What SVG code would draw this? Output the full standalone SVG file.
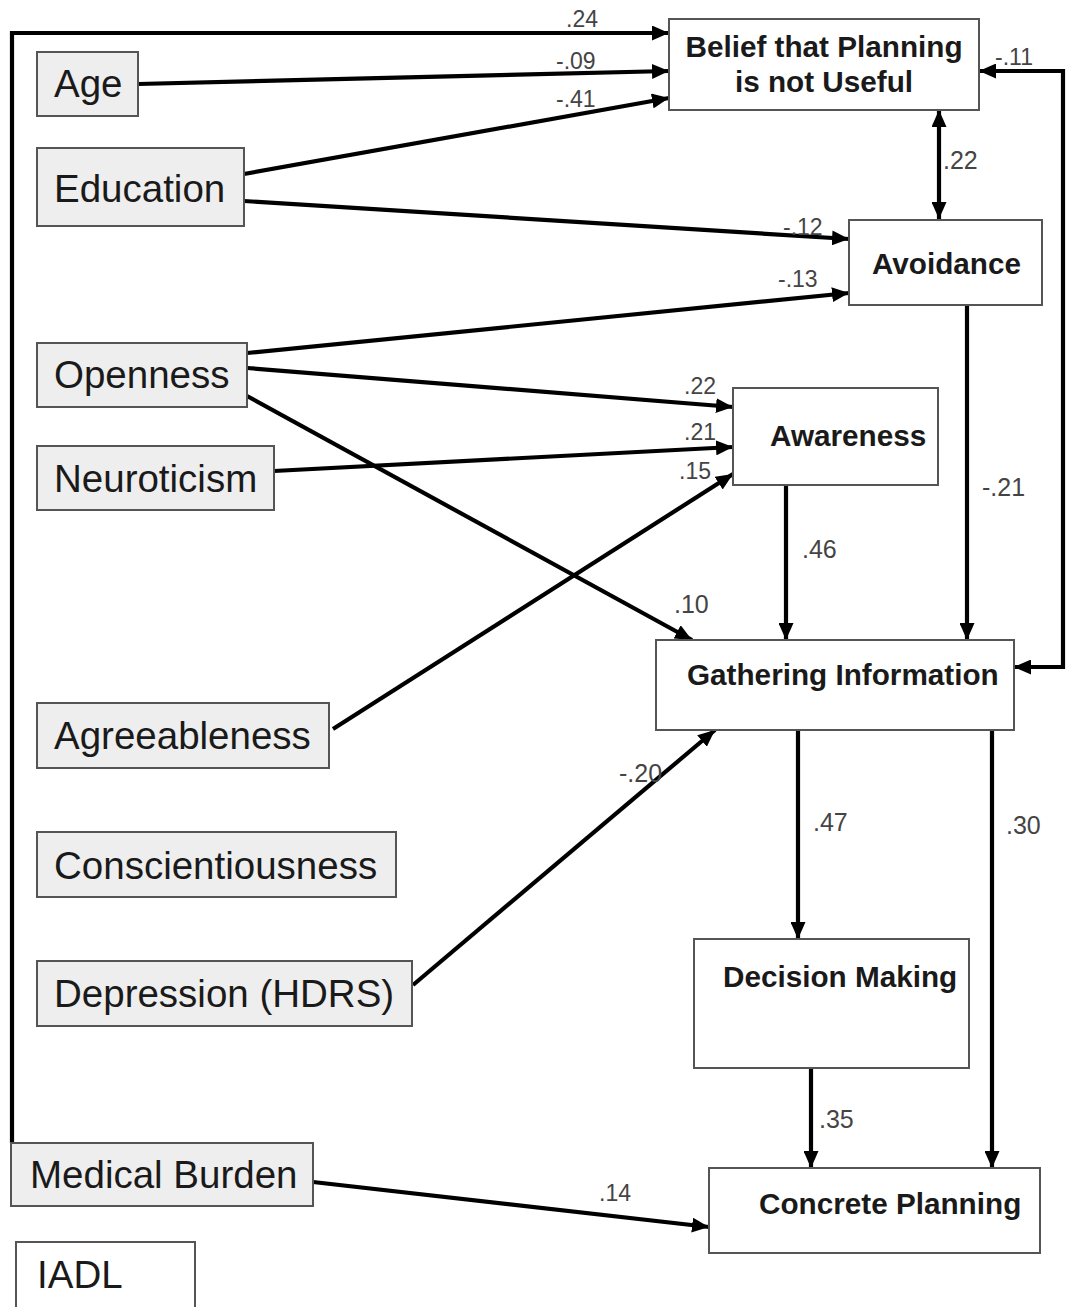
<svg xmlns="http://www.w3.org/2000/svg" width="1066" height="1307" viewBox="0 0 1066 1307">
<style>
.box{stroke:#555;stroke-width:2}
.g{fill:#eeeeee}
.w{fill:#ffffff}
.lt{font-family:"Liberation Sans",Arial,sans-serif;font-size:38.5px;fill:#1a1a1a}
.bt{font-family:"Liberation Sans",Arial,sans-serif;font-size:29.7px;font-weight:bold;fill:#1a1a1a}
.e{fill:none;stroke:#000;stroke-width:4.2}
.ls{font-family:"Liberation Sans",Arial,sans-serif;font-size:23px;fill:#444}
.ll{font-family:"Liberation Sans",Arial,sans-serif;font-size:25px;fill:#444}
</style>
<defs>
<marker id="ah" markerUnits="userSpaceOnUse" markerWidth="18" markerHeight="15" refX="17" refY="7.5" orient="auto-start-reverse">
<path d="M0,0 L17,7.5 L0,15 z" fill="#000"/>
</marker>
</defs>
<rect width="1066" height="1307" fill="#fff"/>

<g id="connectors">
<path class="e" d="M12,1143 L12,33 L669,33" marker-end="url(#ah)"/>
<path class="e" d="M138,84 L669,71" marker-end="url(#ah)"/>
<path class="e" d="M244,174 L669,98" marker-end="url(#ah)"/>
<path class="e" d="M244,201 L849,239" marker-end="url(#ah)"/>
<path class="e" d="M247,353 L849,293" marker-end="url(#ah)"/>
<path class="e" d="M247,368 L733,407" marker-end="url(#ah)"/>
<path class="e" d="M247,396 L692,640" marker-end="url(#ah)"/>
<path class="e" d="M274,471 L733,447" marker-end="url(#ah)"/>
<path class="e" d="M333,729 L733,474" marker-end="url(#ah)"/>
<path class="e" d="M413,985 L715,730" marker-end="url(#ah)"/>
<path class="e" d="M939,110 L939,219" marker-start="url(#ah)" marker-end="url(#ah)"/>
<path class="e" d="M979,71 L1063,71 L1063,667 L1014,667" marker-start="url(#ah)" marker-end="url(#ah)"/>
<path class="e" d="M967,305 L967,640" marker-end="url(#ah)"/>
<path class="e" d="M786,485 L786,640" marker-end="url(#ah)"/>
<path class="e" d="M798,730 L798,939" marker-end="url(#ah)"/>
<path class="e" d="M992,730 L992,1168" marker-end="url(#ah)"/>
<path class="e" d="M811,1068 L811,1168" marker-end="url(#ah)"/>
<path class="e" d="M313,1182 L709,1227" marker-end="url(#ah)"/>
<text class="ls" x="566" y="27">.24</text>
<text class="ls" x="556" y="69">-.09</text>
<text class="ls" x="556" y="107">-.41</text>
<text class="ls" x="783" y="235">-.12</text>
<text class="ls" x="778" y="287">-.13</text>
<text class="ls" x="995" y="65">-.11</text>
<text class="ll" x="943" y="169">.22</text>
<text class="ls" x="684" y="394">.22</text>
<text class="ls" x="684" y="440">.21</text>
<text class="ls" x="679" y="479">.15</text>
<text class="ll" x="982" y="496">-.21</text>
<text class="ll" x="802" y="558">.46</text>
<text class="ll" x="674" y="613">.10</text>
<text class="ll" x="619" y="782">-.20</text>
<text class="ll" x="813" y="831">.47</text>
<text class="ll" x="1006" y="834">.30</text>
<text class="ll" x="819" y="1128">.35</text>
<text class="ls" x="599" y="1201">.14</text>
</g>

<g id="age"><rect class="box g" x="37" y="52" width="101" height="64"/><text class="lt" x="54" y="97">Age</text></g>
<g id="education"><rect class="box g" x="37" y="148" width="207" height="78"/><text class="lt" x="54" y="202">Education</text></g>
<g id="openness"><rect class="box g" x="37" y="343" width="210" height="64"/><text class="lt" x="54" y="388">Openness</text></g>
<g id="neuroticism"><rect class="box g" x="37" y="446" width="237" height="64"/><text class="lt" x="54" y="492">Neuroticism</text></g>
<g id="agreeableness"><rect class="box g" x="37" y="703" width="292" height="65"/><text class="lt" x="54" y="749">Agreeableness</text></g>
<g id="conscientiousness"><rect class="box g" x="37" y="832" width="359" height="65"/><text class="lt" x="54" y="879">Conscientiousness</text></g>
<g id="depression"><rect class="box g" x="37" y="961" width="375" height="65"/><text class="lt" x="54" y="1007">Depression (HDRS)</text></g>
<g id="medical-burden"><rect class="box g" x="11" y="1143" width="302" height="63"/><text class="lt" x="30" y="1188">Medical Burden</text></g>
<g id="iadl"><rect class="box w" x="16" y="1242" width="179" height="72"/><text class="lt" x="37" y="1288">IADL</text></g>

<g id="belief"><rect class="box w" x="669" y="19" width="310" height="91"/><text class="bt" x="824" y="57" text-anchor="middle">Belief that Planning</text><text class="bt" x="824" y="92" text-anchor="middle">is not Useful</text></g>
<g id="avoidance"><rect class="box w" x="849" y="220" width="193" height="85"/><text class="bt" x="946.5" y="274" text-anchor="middle">Avoidance</text></g>
<g id="awareness"><rect class="box w" x="733" y="388" width="205" height="97"/><text class="bt" x="770" y="446">Awareness</text></g>
<g id="gathering"><rect class="box w" x="656" y="640" width="358" height="90"/><text class="bt" x="687" y="685">Gathering Information</text></g>
<g id="decision"><rect class="box w" x="694" y="939" width="275" height="129"/><text class="bt" x="723" y="987">Decision Making</text></g>
<g id="concrete"><rect class="box w" x="709" y="1168" width="331" height="85"/><text class="bt" x="759" y="1214">Concrete Planning</text></g>
</svg>
